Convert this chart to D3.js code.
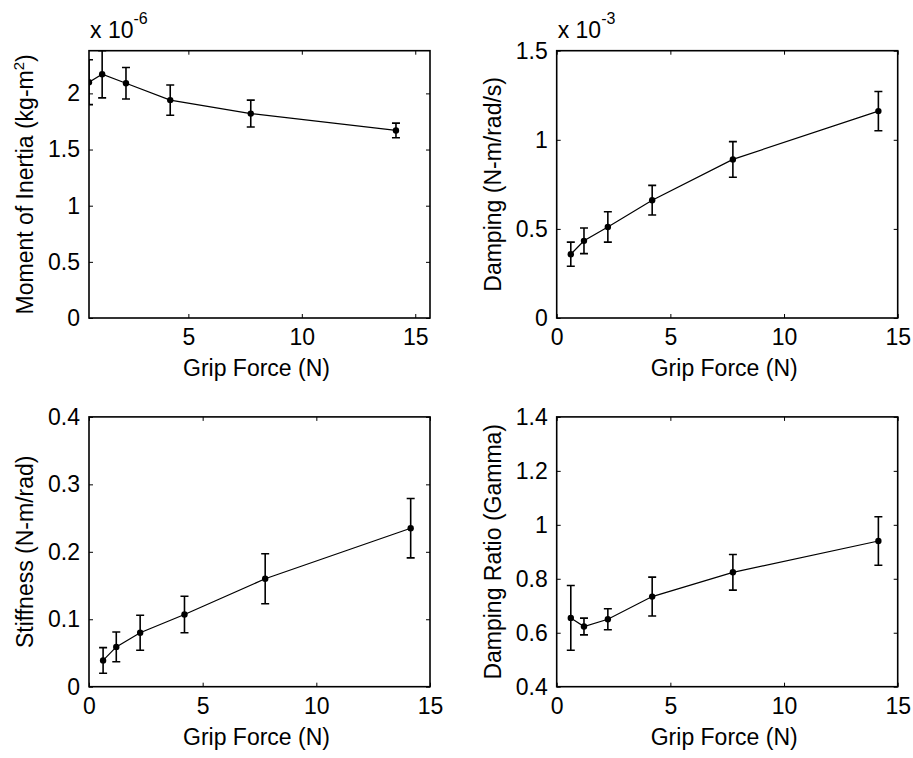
<!DOCTYPE html>
<html>
<head>
<meta charset="utf-8">
<script src="https://cdn.jsdelivr.net/npm/d3@7"></script>
<style>
  html, body { margin: 0; padding: 0; background: #fff; }
  svg { display: block; }
  text { font-family: "Liberation Sans", Arial, Helvetica, sans-serif; fill: #000; }
</style>
</head>
<body>
<script>
// Grip force levels (N), shared by all four panels
const gripForce = [0.62, 1.2, 2.25, 4.2, 7.75, 14.15];

// Moment of inertia (x 10^-6 kg-m^2) with standard deviations
const inertia    = [2.10, 2.17, 2.09, 1.94, 1.82, 1.67];
const inertiaErr = [0.20, 0.21, 0.14, 0.135, 0.12, 0.065];

// Damping (x 10^-3 N-m/rad/s)
const damping    = [0.358, 0.433, 0.511, 0.661, 0.890, 1.161];
const dampingErr = [0.068, 0.072, 0.085, 0.083, 0.100, 0.110];

// Stiffness (N-m/rad)
const stiffness    = [0.039, 0.059, 0.080, 0.107, 0.160, 0.235];
const stiffnessErr = [0.019, 0.022, 0.026, 0.027, 0.037, 0.044];

// Damping ratio
const dampRatio    = [0.655, 0.623, 0.650, 0.734, 0.824, 0.940];
const dampRatioErr = [0.120, 0.031, 0.039, 0.072, 0.066, 0.090];

// Tick values per axis
const xTicksInertia = [5, 10, 15];
const xTicks        = [0, 5, 10, 15];
const yTicksInertia   = [0, 0.5, 1, 1.5, 2];
const yTicksDamping   = [0, 0.5, 1, 1.5];
const yTicksStiffness = [0, 0.1, 0.2, 0.3, 0.4];
const yTicksRatio     = [0.4, 0.6, 0.8, 1, 1.2, 1.4];

const W = 913, H = 758;
const FS = 23;

const svg = d3.select("body").append("svg")
  .attr("width", W).attr("height", H);

const panels = [
  { left: 89, top: 50.7, right: 430, bottom: 318,
    xDomain: [0.62, 15.65], yDomain: [0, 2.38],
    xTicks: xTicksInertia, yTicks: yTicksInertia,
    y: inertia, err: inertiaErr,
    ylabel: ["Moment of Inertia (kg-m", "2", ")"], exponent: "-6" },
  { left: 556.7, top: 50.7, right: 897.7, bottom: 318,
    xDomain: [0, 15], yDomain: [0, 1.5],
    xTicks: xTicks, yTicks: yTicksDamping,
    y: damping, err: dampingErr,
    ylabel: ["Damping (N-m/rad/s)"], exponent: "-3" },
  { left: 89, top: 416.9, right: 430, bottom: 686.7,
    xDomain: [0, 15], yDomain: [0, 0.4],
    xTicks: xTicks, yTicks: yTicksStiffness,
    y: stiffness, err: stiffnessErr,
    ylabel: ["Stiffness (N-m/rad)"] },
  { left: 556.7, top: 416.9, right: 897.7, bottom: 686.7,
    xDomain: [0, 15], yDomain: [0.4, 1.4],
    xTicks: xTicks, yTicks: yTicksRatio,
    y: dampRatio, err: dampRatioErr,
    ylabel: ["Damping Ratio (Gamma)"] }
];

const fmt = d => String(+d.toFixed(2));

panels.forEach((p, i) => {
  const x = d3.scaleLinear().domain(p.xDomain).range([p.left, p.right]);
  const y = d3.scaleLinear().domain(p.yDomain).range([p.bottom, p.top]);
  const g = svg.append("g");

  const clipId = "clip" + i;
  svg.append("clipPath").attr("id", clipId)
    .append("rect")
    .attr("x", p.left).attr("y", p.top)
    .attr("width", p.right - p.left).attr("height", p.bottom - p.top);

  // axes with inward ticks on all four sides
  const styleAxis = sel => {
    sel.select(".domain").remove();
    sel.selectAll(".tick line").attr("stroke", "#000").attr("stroke-width", 1);
    sel.selectAll("text").style("font-size", FS + "px")
      .style("font-family", "'Liberation Sans', Arial, sans-serif").attr("fill", "#000");
  };
  g.append("g").attr("transform", `translate(0,${p.bottom})`)
    .call(d3.axisBottom(x).tickValues(p.xTicks).tickFormat(fmt)
      .tickSizeInner(-4).tickSizeOuter(0).tickPadding(11))
    .call(styleAxis);
  g.append("g").attr("transform", `translate(0,${p.top})`)
    .call(d3.axisTop(x).tickValues(p.xTicks).tickFormat("")
      .tickSizeInner(-4).tickSizeOuter(0))
    .call(styleAxis);
  g.append("g").attr("transform", `translate(${p.left},0)`)
    .call(d3.axisLeft(y).tickValues(p.yTicks).tickFormat(fmt)
      .tickSizeInner(-4).tickSizeOuter(0).tickPadding(9))
    .call(styleAxis);
  g.append("g").attr("transform", `translate(${p.right},0)`)
    .call(d3.axisRight(y).tickValues(p.yTicks).tickFormat("")
      .tickSizeInner(-4).tickSizeOuter(0))
    .call(styleAxis);

  // axes box
  g.append("rect")
    .attr("x", p.left).attr("y", p.top)
    .attr("width", p.right - p.left).attr("height", p.bottom - p.top)
    .attr("fill", "none").attr("stroke", "#000").attr("stroke-width", 1.6);

  // data: line, error bars, markers
  const pts = gripForce.map((f, k) => ({ f, v: p.y[k], e: p.err[k] }));
  const plot = g.append("g").attr("clip-path", `url(#${clipId})`);

  plot.append("path")
    .datum(pts)
    .attr("fill", "none").attr("stroke", "#000").attr("stroke-width", 1.2)
    .attr("d", d3.line().x(d => x(d.f)).y(d => y(d.v)));

  const cap = 4;
  const eb = plot.selectAll(".eb").data(pts).enter().append("g")
    .attr("stroke", "#000").attr("stroke-width", 1.6);
  eb.append("line")
    .attr("x1", d => x(d.f)).attr("x2", d => x(d.f))
    .attr("y1", d => y(d.v - d.e)).attr("y2", d => y(d.v + d.e));
  eb.append("line")
    .attr("x1", d => x(d.f) - cap).attr("x2", d => x(d.f) + cap)
    .attr("y1", d => y(d.v - d.e)).attr("y2", d => y(d.v - d.e));
  eb.append("line")
    .attr("x1", d => x(d.f) - cap).attr("x2", d => x(d.f) + cap)
    .attr("y1", d => y(d.v + d.e)).attr("y2", d => y(d.v + d.e));

  plot.selectAll(".pt").data(pts).enter().append("circle")
    .attr("cx", d => x(d.f)).attr("cy", d => y(d.v)).attr("r", 3.2)
    .attr("fill", "#000");

  // x-axis label
  g.append("text")
    .attr("x", (p.left + p.right) / 2 - 3).attr("y", p.bottom + 58)
    .attr("text-anchor", "middle").style("font-size", FS + "px")
    .text("Grip Force (N)");

  // y-axis label (rotated)
  const lx = p.left - 56;
  const yl = g.append("text")
    .attr("transform", `translate(${lx},${(p.top + p.bottom) / 2}) rotate(-90)`)
    .attr("text-anchor", "middle").style("font-size", FS + "px");
  yl.append("tspan").text(p.ylabel[0]);
  if (p.ylabel.length > 1) {
    yl.append("tspan").attr("dy", -9).style("font-size", "15px").text(p.ylabel[1]);
    yl.append("tspan").attr("dy", 9).text(p.ylabel[2]);
  }

  // scale multiplier above the axes
  if (p.exponent) {
    const m = g.append("text")
      .attr("x", p.left + 1).attr("y", 37.7)
      .style("font-size", FS + "px");
    m.append("tspan").text("x 10");
    m.append("tspan").attr("dy", -14).style("font-size", "16px").text(p.exponent);
  }
});
</script>
</body>
</html>
